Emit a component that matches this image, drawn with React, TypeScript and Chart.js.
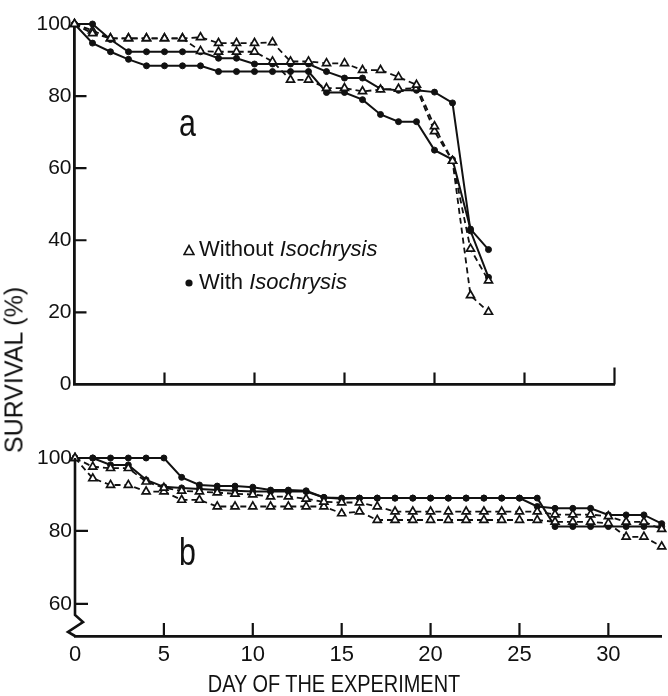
import React, { useEffect, useRef } from "react";
import { Chart, registerables } from "chart.js";

Chart.register(...registerables);

// ---- panel a: days 0-23 ----
const daysA = [0, 1, 2, 3, 4, 5, 6, 7, 8, 9, 10, 11, 12, 13, 14, 15, 16, 17, 18, 19, 20, 21, 22, 23];
const withA1 = [100, 100, 95.7, 92.3, 92.3, 92.3, 92.3, 92.3, 90.5, 90.5, 88.9, 88.9, 88.9, 88.9, 86.8, 85.0, 85.0, 82.0, 81.6, 81.6, 81.1, 78.1, 42.6, 29.7];
const withA2 = [100, 94.7, 92.3, 90.2, 88.4, 88.4, 88.4, 88.4, 86.8, 86.8, 86.8, 86.8, 86.8, 86.8, 81.0, 81.0, 79.0, 74.9, 72.9, 72.9, 65.0, 62.4, 43.1, 37.4];
const withoutA1 = [100, 97.4, 96.0, 96.0, 96.0, 96.0, 96.0, 96.3, 94.7, 94.7, 94.7, 94.9, 89.6, 89.6, 89.1, 89.1, 87.2, 87.2, 85.3, 83.1, 71.6, 62.0, 37.6, 28.8];
const withoutA2 = [100, 98.2, 96.0, 96.0, 96.0, 96.0, 96.0, 92.5, 92.3, 92.3, 92.3, 89.6, 84.5, 84.5, 82.2, 82.2, 81.3, 81.8, 82.0, 82.2, 70.2, 62.0, 24.7, 20.1];

// ---- panel b: days 0-33 ----
const daysB = [0, 1, 2, 3, 4, 5, 6, 7, 8, 9, 10, 11, 12, 13, 14, 15, 16, 17, 18, 19, 20, 21, 22, 23, 24, 25, 26, 27, 28, 29, 30, 31, 32, 33];
const withB1 = [100, 100, 100, 100, 100, 100, 94.7, 92.6, 92.3, 92.3, 92.0, 91.2, 91.2, 91.0, 89.2, 89.0, 89.0, 89.0, 89.0, 89.0, 89.0, 89.0, 89.0, 89.0, 89.0, 89.0, 89.0, 81.2, 81.2, 81.2, 81.2, 81.2, 81.2, 81.2];
const withB2 = [100, 100, 98.1, 98.1, 94.0, 92.1, 91.8, 91.5, 91.2, 91.0, 90.8, 90.8, 90.8, 90.8, 89.2, 88.8, 89.0, 89.0, 89.0, 89.0, 89.0, 89.0, 89.0, 89.0, 89.0, 89.0, 86.7, 86.2, 86.2, 86.2, 84.4, 84.4, 84.4, 82.0];
const withoutB1 = [100, 97.6, 97.2, 97.2, 93.5, 91.8, 91.0, 90.8, 90.5, 90.2, 90.0, 89.4, 89.4, 88.8, 88.0, 87.8, 87.8, 86.7, 85.3, 85.3, 85.3, 85.3, 85.3, 85.3, 85.3, 85.3, 85.3, 84.5, 84.5, 84.5, 84.0, 82.5, 82.5, 80.5];
const withoutB2 = [100, 94.4, 92.6, 92.6, 90.8, 90.8, 88.5, 88.5, 86.7, 86.7, 86.7, 86.7, 86.7, 86.7, 86.7, 84.8, 85.3, 83.0, 83.0, 83.0, 83.0, 83.0, 83.0, 83.0, 83.0, 83.0, 83.0, 82.5, 82.5, 82.5, 82.1, 78.4, 78.4, 75.7];

// ---- axis ticks ----
const dayTicks = [0, 5, 10, 15, 20, 25, 30];
const yTicksA = [0, 20, 40, 60, 80, 100];
const yTicksB = [60, 80, 100];

const FONT = "'Liberation Sans', Arial, sans-serif";
const INK = "#111";

const toPoints = (days: number[], vals: number[]) => days.map((d, i) => ({ x: d, y: vals[i] }));

const solid = (days: number[], vals: number[]) => ({
  data: toPoints(days, vals),
  borderColor: INK,
  borderWidth: 2,
  pointStyle: "circle" as const,
  pointRadius: 3,
  pointBackgroundColor: INK,
  pointBorderColor: INK,
  pointBorderWidth: 1,
  clip: false as const,
});

const dashed = (days: number[], vals: number[]) => ({
  data: toPoints(days, vals),
  borderColor: INK,
  borderWidth: 1.8,
  borderDash: [6, 4],
  pointStyle: "triangle" as const,
  pointRadius: 4.6,
  pointBackgroundColor: "#fff",
  pointBorderColor: INK,
  pointBorderWidth: 1.7,
  clip: false as const,
});

// Short tick marks pointing into the plot, plus an optional broken-axis zigzag.
const innerTicks = {
  id: "innerTicks",
  afterDraw(chart: any, _args: any, opts: any) {
    const { ctx, chartArea, scales } = chart;
    const xs = scales.x;
    const ys = scales.y;
    ctx.save();
    ctx.strokeStyle = INK;
    ctx.lineWidth = 2.2;
    ctx.lineCap = "butt";
    ctx.beginPath();
    (opts.xMarks as number[]).forEach((v) => {
      const px = xs.getPixelForValue(v);
      const len = v === opts.longX ? opts.len + 5 : opts.len;
      ctx.moveTo(px, chartArea.bottom);
      ctx.lineTo(px, chartArea.bottom - len);
    });
    (opts.yMarks as number[]).forEach((v) => {
      const py = ys.getPixelForValue(v);
      ctx.moveTo(chartArea.left, py);
      ctx.lineTo(chartArea.left + opts.len, py);
    });
    ctx.stroke();
    if (opts.axisBreak) {
      const l = chartArea.left;
      const b = chartArea.bottom;
      ctx.lineWidth = 2.6;
      ctx.lineJoin = "miter";
      ctx.beginPath();
      ctx.moveTo(l, chartArea.top);
      ctx.lineTo(l, b - 21);
      ctx.lineTo(l + 8, b - 14);
      ctx.lineTo(l - 7, b - 4);
      ctx.lineTo(l, b);
      ctx.stroke();
    }
    ctx.restore();
  },
};

const axisBorder = { display: true, color: INK, width: 2.8 };

function useChart(ref: React.RefObject<HTMLCanvasElement>, build: () => any) {
  useEffect(() => {
    if (!ref.current) return;
    const chart = new Chart(ref.current, build());
    return () => chart.destroy();
  }, []);
}

export default function App() {
  const topRef = useRef<HTMLCanvasElement>(null);
  const botRef = useRef<HTMLCanvasElement>(null);

  useChart(topRef, () => ({
    type: "line",
    data: {
      datasets: [
        dashed(daysA, withoutA1),
        dashed(daysA, withoutA2),
        solid(daysA, withA1),
        solid(daysA, withA2),
      ],
    },
    options: {
      responsive: false,
      animation: false,
      events: [],
      layout: { padding: { left: 0, top: 24, right: 53.5, bottom: 0 } },
      plugins: {
        legend: { display: false },
        tooltip: { enabled: false },
        innerTicks: { xMarks: dayTicks.slice(1), yMarks: [20, 40, 60, 80], len: 12, longX: 30 },
      },
      scales: {
        x: {
          type: "linear",
          min: 0,
          max: 30,
          afterBuildTicks: (s: any) => { s.ticks = dayTicks.map((v) => ({ value: v })); },
          afterFit: (s: any) => { s.height = 14; },
          ticks: { display: false },
          grid: { display: false, drawTicks: false },
          border: axisBorder,
        },
        y: {
          type: "linear",
          min: 0,
          max: 100,
          afterBuildTicks: (s: any) => { s.ticks = yTicksA.map((v) => ({ value: v })); },
          afterFit: (s: any) => { s.width = 74.5; },
          ticks: { color: INK, padding: 3, font: { family: FONT, size: 21 } },
          grid: { display: false, drawTicks: false },
          border: axisBorder,
        },
      },
    },
    plugins: [innerTicks],
  }));

  useChart(botRef, () => ({
    type: "line",
    data: {
      datasets: [
        dashed(daysB, withoutB1),
        dashed(daysB, withoutB2),
        solid(daysB, withB1),
        solid(daysB, withB2),
      ],
    },
    options: {
      responsive: false,
      animation: false,
      events: [],
      layout: { padding: { left: 0, top: 38, right: 0, bottom: 0 } },
      plugins: {
        legend: { display: false },
        tooltip: { enabled: false },
        innerTicks: { xMarks: dayTicks.slice(1), yMarks: [60, 80], len: 13, axisBreak: true },
      },
      scales: {
        x: {
          type: "linear",
          min: 0,
          max: 33,
          afterBuildTicks: (s: any) => { s.ticks = dayTicks.map((v) => ({ value: v })); },
          afterFit: (s: any) => { s.height = 60; },
          ticks: { color: INK, padding: 6, maxRotation: 0, font: { family: FONT, size: 22 } },
          grid: { display: false, drawTicks: false },
          border: axisBorder,
        },
        y: {
          type: "linear",
          min: 51.2,
          max: 100,
          afterBuildTicks: (s: any) => { s.ticks = yTicksB.map((v) => ({ value: v })); },
          afterFit: (s: any) => { s.width = 75; },
          ticks: { color: INK, padding: 3, font: { family: FONT, size: 21 } },
          grid: { display: false, drawTicks: false },
          border: { display: false },
        },
      },
    },
    plugins: [innerTicks],
  }));

  const text: React.CSSProperties = {
    position: "absolute",
    fontFamily: FONT,
    color: INK,
    whiteSpace: "nowrap",
    margin: 0,
  };

  return (
    <div style={{ position: "absolute", left: 0, top: 0, width: 668, height: 696, background: "#fff", overflow: "hidden" }}>
      <canvas ref={topRef} width={668} height={400} style={{ position: "absolute", left: 0, top: 0 }} />
      <canvas ref={botRef} width={668} height={276} style={{ position: "absolute", left: 0, top: 420 }} />

      <div style={{ ...text, left: 179, top: 104, fontSize: 38, lineHeight: "38px", transform: "scaleX(0.8)", transformOrigin: "left center" }}>a</div>
      <div style={{ ...text, left: 179, top: 533, fontSize: 38, lineHeight: "38px", transform: "scaleX(0.8)", transformOrigin: "left center" }}>b</div>

      <div style={{ ...text, left: 183, top: 238, fontSize: 22, lineHeight: "22px", display: "flex", alignItems: "center" }}>
        <svg width="12" height="12" style={{ marginRight: 4, marginTop: 2 }}>
          <polygon points="6,1.5 11,10.5 1,10.5" fill="#fff" stroke={INK} strokeWidth="1.6" />
        </svg>
        <span>Without <i>Isochrysis</i></span>
      </div>
      <div style={{ ...text, left: 183, top: 271, fontSize: 22, lineHeight: "22px", display: "flex", alignItems: "center" }}>
        <svg width="12" height="12" style={{ marginRight: 4, marginTop: 2 }}>
          <circle cx="6" cy="6" r="3.6" fill={INK} />
        </svg>
        <span>With <i>Isochrysis</i></span>
      </div>

      <div
        style={{
          ...text,
          left: 14,
          top: 370,
          fontSize: 25,
          lineHeight: "25px",
          transform: "translate(-50%, -50%) rotate(-90deg)",
        }}
      >
        SURVIVAL (%)
      </div>

      <div style={{ ...text, left: 0, width: 668, top: 672, textAlign: "center", fontSize: 24, lineHeight: "24px", transform: "scaleX(0.83)", transformOrigin: "334px center" }}>
        DAY OF THE EXPERIMENT
      </div>
    </div>
  );
}
